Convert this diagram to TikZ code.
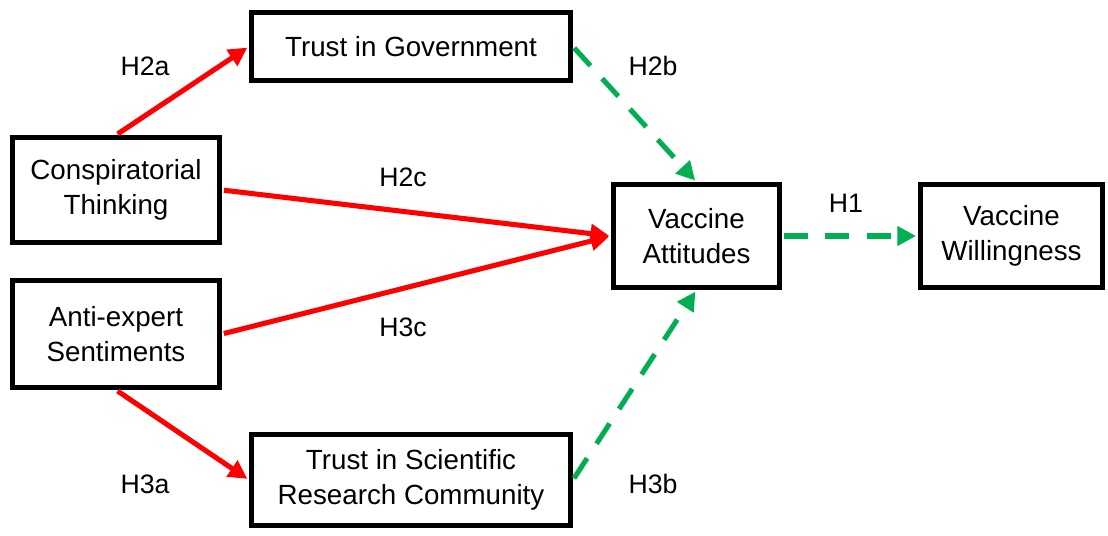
\documentclass[tikz,border=0pt]{standalone}
\usepackage{fontspec}
\setmainfont{Liberation Sans}
\usetikzlibrary{arrows.meta}
\begin{document}
\begin{tikzpicture}[x=0.75pt,y=-0.75pt,
  box/.style={draw, line width=4pt, fill=white, align=center, inner sep=0pt,
    font=\fontsize{20.8}{26}\selectfont},
  lab/.style={font=\fontsize{20}{24}\selectfont, inner sep=0pt},
  redarrow/.style={draw=red, line width=3.8pt, shorten >=1.5pt, shorten <=1.5pt,
    -{Triangle[length=14pt,width=14pt]}},
  greenarrow/.style={draw={rgb,255:red,0;green,176;blue,80}, line width=3.8pt,
    dash pattern=on 18pt off 13pt, shorten >=1.5pt, shorten <=1.5pt,
    -{Triangle[length=14pt,width=14pt]}}]
\useasboundingbox (0,0) rectangle (1108,536);
\node[box, minimum width=238.9pt, minimum height=50.6pt] (gov) at (411,46.5) {Trust in Government};
\node[box, minimum width=154.9pt, minimum height=78.4pt] (con) at (116,190) {Conspiratorial\\Thinking};
\node[box, minimum width=154.9pt, minimum height=79.9pt] (anti) at (116,334) {Anti-expert\\Sentiments};
\node[box, minimum width=238.9pt, minimum height=67.9pt] (sci) at (411,480) {Trust in Scientific\\Research Community};
\node[box, minimum width=124.1pt, minimum height=76.9pt] (att) at (696.5,236) {Vaccine\\Attitudes};
\node[box, minimum width=136.1pt, minimum height=76.9pt] (wil) at (1011.5,236) {Vaccine\\Willingness};

\draw[redarrow] (con.north) -- (gov.west);
\draw[redarrow] (con.east) -- (att.west);
\draw[redarrow] (anti.east) -- (att.west);
\draw[redarrow] (anti.south) -- (sci.west);
\draw[greenarrow] (gov.east) -- (att.north);
\draw[greenarrow] (sci.east) -- (att.south);
\draw[greenarrow] (att.east) -- (wil.west);

\node[lab] (l2a) at (145,66) {H2a};
\node[lab] (l2b) at (653,66) {H2b};
\node[lab] (l2c) at (403,177) {H2c};
\node[lab] (l3c) at (403,327) {H3c};
\node[lab] (l3a) at (145,484) {H3a};
\node[lab] (l3b) at (653,484) {H3b};
\node[lab] (l1) at (846,203) {H1};
\end{tikzpicture}
\end{document}
